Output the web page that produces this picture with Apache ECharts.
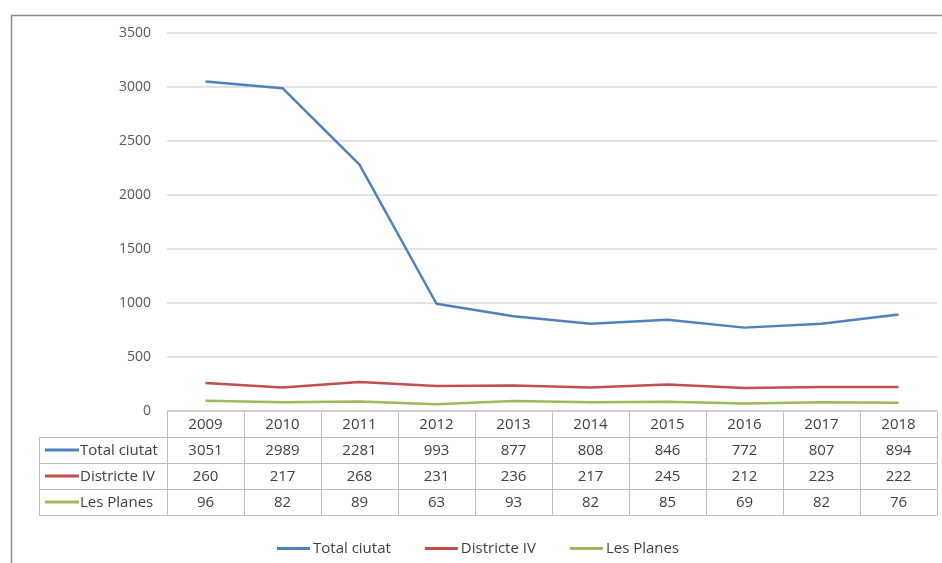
<!DOCTYPE html>
<html>
<head>
<meta charset="utf-8">
<script src="https://cdn.jsdelivr.net/npm/echarts@6/dist/echarts.min.js"></script>
<style>
  html, body { margin: 0; padding: 0; background: #fff; }
  #main { width: 942px; height: 563px; }
</style>
</head>
<body>
<div id="main"></div>
<script>
const years = ['2009', '2010', '2011', '2012', '2013', '2014', '2015', '2016', '2017', '2018']
const totalCiutat = [3051, 2989, 2281, 993, 877, 808, 846, 772, 807, 894]
const districteIV = [260, 217, 268, 231, 236, 217, 245, 212, 223, 222]
const lesPlanes = [96, 82, 89, 63, 93, 82, 85, 69, 82, 76]
const seriesNames = ['Total ciutat', 'Districte IV', 'Les Planes']
const colors = ['#4F81BD', '#C0504D', '#9BBB59']

const fontFam = '"Open Sans", sans-serif'
const textColor = '#404040'
const chart = echarts.init(document.getElementById('main'))

chart.setOption({
  backgroundColor: '#fff',
  animation: false,
  color: colors,
  grid: { left: 167, right: 5, top: 33, bottom: 152 },
  legend: {
    left: 277,
    top: 541,
    padding: 0,
    icon: 'rect',
    itemWidth: 33,
    itemHeight: 3,
    itemGap: 34,
    textStyle: { fontFamily: fontFam, fontSize: 15, color: textColor, padding: [0, 0, 0, -2] },
    data: seriesNames
  },
  xAxis: {
    type: 'category',
    data: years,
    boundaryGap: true,
    axisLine: { show: false },
    axisTick: { show: false },
    axisLabel: { show: false }
  },
  yAxis: {
    type: 'value',
    min: 0,
    max: 3500,
    interval: 500,
    axisLine: { show: false },
    axisTick: { show: false },
    axisLabel: { margin: 16, fontFamily: fontFam, fontSize: 14, color: '#595959', formatter: v => String(v) },
    splitLine: { lineStyle: { color: '#D9D9D9', width: 1.5 } }
  },
  series: [
    { name: seriesNames[0], type: 'line', data: totalCiutat, symbol: 'none', lineStyle: { width: 2.5 } },
    { name: seriesNames[1], type: 'line', data: districteIV, symbol: 'none', lineStyle: { width: 2.5 } },
    { name: seriesNames[2], type: 'line', data: lesPlanes, symbol: 'none', lineStyle: { width: 2.5 } }
  ]
})

// data table under the axis, placed from the axis scale
function buildTable() {
  const c0 = chart.convertToPixel({ xAxisIndex: 0 }, years[0])
  const c1 = chart.convertToPixel({ xAxisIndex: 0 }, years[1])
  const colW = c1 - c0
  const gLeft = c0 - colW / 2
  const gRight = gLeft + colW * years.length
  const yTop = chart.convertToPixel({ yAxisIndex: 0 }, 0)
  const rowH = 26
  const labLeft = 39
  const rows = [totalCiutat, districteIV, lesPlanes]
  const yBottom = yTop + rowH * (rows.length + 1)
  const border = { stroke: '#BFBFBF', lineWidth: 1 }
  const els = []

  // frame around the whole chart
  els.push({ type: 'rect', shape: { x: 11.5, y: 15.5, width: 960, height: 600 },
    style: { fill: 'none', stroke: '#8C8C8C', lineWidth: 1.5 }, z: -1 })

  els.push({ type: 'line', shape: { x1: gLeft, y1: yTop, x2: gRight, y2: yTop }, style: border })
  for (let r = 1; r <= rows.length + 1; r++) {
    const y = Math.round(yTop + rowH * r) + 0.5
    els.push({ type: 'line', shape: { x1: labLeft, y1: y, x2: gRight, y2: y }, style: border })
  }
  for (let i = 0; i <= years.length; i++) {
    const x = Math.round(gLeft + colW * i) + 0.5
    els.push({ type: 'line', shape: { x1: x, y1: yTop, x2: x, y2: yBottom }, style: border })
  }
  els.push({ type: 'line', shape: { x1: labLeft + 0.5, y1: yTop + rowH, x2: labLeft + 0.5, y2: yBottom }, style: border })

  const cellText = (txt, x, y) => ({
    type: 'text', x: x, y: y,
    style: { text: txt, fontFamily: fontFam, fontSize: 15, fill: textColor, align: 'center', verticalAlign: 'middle' }
  })
  years.forEach((yr, i) => els.push(cellText(yr, gLeft + colW * (i + 0.5), yTop + rowH / 2 + 1)))
  rows.forEach((vals, r) => {
    const yc = yTop + rowH * (r + 1.5) + 1
    vals.forEach((v, i) => els.push(cellText(String(v), gLeft + colW * (i + 0.5), yc)))
    els.push({ type: 'line', shape: { x1: 45, y1: yc - 1, x2: 79, y2: yc - 1 },
      style: { stroke: colors[r], lineWidth: 3 } })
    els.push({ type: 'text', x: 80, y: yc,
      style: { text: seriesNames[r], fontFamily: fontFam, fontSize: 15, fill: textColor, align: 'left', verticalAlign: 'middle' } })
  })
  chart.setOption({ graphic: els })
}
buildTable()
</script>
</body>
</html>
